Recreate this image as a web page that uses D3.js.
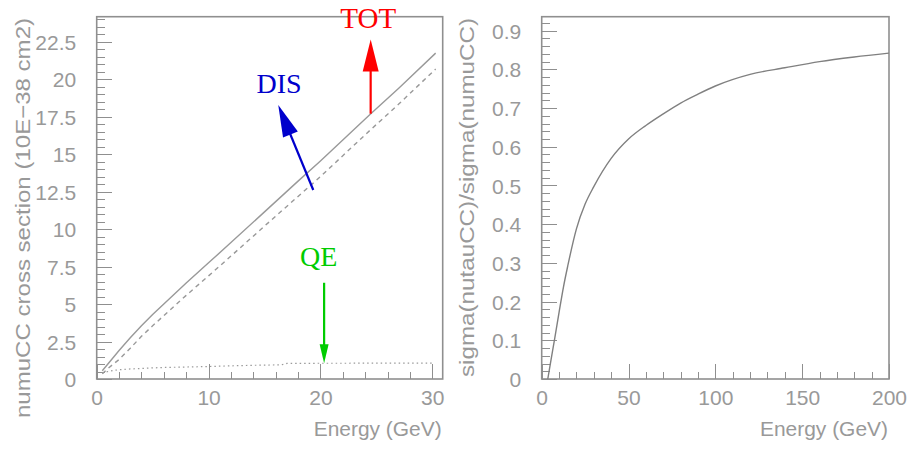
<!DOCTYPE html>
<html><head><meta charset="utf-8">
<script src="https://cdn.jsdelivr.net/npm/d3@7/dist/d3.min.js"></script>
<style>
html,body{margin:0;padding:0;background:#fff;}
svg{display:block;}
</style></head>
<body>
<svg id="chart" width="908" height="449"></svg>
<script>
// ---------------- data ----------------
const xsEnergy   = [0.5, 1, 1.5, 2, 3, 4, 5, 6, 8, 10, 12, 15, 18, 20, 22, 24.5, 27, 30.3];
const totSigma   = [0.55, 1.0, 1.45, 1.9, 2.75, 3.55, 4.3, 5.0, 6.4, 7.75, 9.1, 11.15, 13.2, 14.55, 15.95, 17.7, 19.4, 21.74];
const disSigma   = [0.35, 0.7, 1.0, 1.3, 2.05, 2.85, 3.55, 4.23, 5.58, 6.88, 8.2, 10.2, 12.18, 13.5, 14.9, 16.64, 18.34, 20.68];
const qeEnergy   = [0.5, 1, 1.5, 2, 3, 4, 5, 6, 8, 10, 12, 15, 16.5, 17, 20, 22, 24.5, 27, 30];
const qeSigma    = [0.4, 0.5, 0.57, 0.62, 0.67, 0.7, 0.74, 0.77, 0.8, 0.83, 0.88, 0.93, 0.94, 1.04, 1.05, 1.05, 1.06, 1.06, 1.06];
const ratioEnergy = [3.5, 5, 7.5, 10, 12.5, 15, 20, 25, 30, 40, 50, 60, 70, 80, 90, 100, 120, 140, 160, 180, 200];
const ratioValue  = [0, 0.04, 0.105, 0.172, 0.237, 0.292, 0.388, 0.452, 0.497, 0.57, 0.62, 0.655, 0.685, 0.713, 0.736, 0.757, 0.787, 0.804, 0.82, 0.832, 0.842];

const leftXTicks  = [0, 10, 20, 30];
const leftYTicks  = [0, 2.5, 5, 7.5, 10, 12.5, 15, 17.5, 20, 22.5];
const rightXTicks = [0, 50, 100, 150, 200];
const rightYTicks = [0, 0.1, 0.2, 0.3, 0.4, 0.5, 0.6, 0.7, 0.8, 0.9];

const leftXTitle  = "Energy (GeV)";
const leftYTitle  = "numuCC cross section (10E\u221238 cm2)";
const rightXTitle = "Energy (GeV)";
const rightYTitle = "sigma(nutauCC)/sigma(numuCC)";

// annotation arrows (data coordinates of left panel)
const arrowLabels = ["TOT", "DIS", "QE"];
const arrowColors = ["#ff0000", "#0000cc", "#00cc00"];
const arrowFrom   = [[24.49, 17.7], [19.36, 12.61], [20.33, 6.42]];
const arrowTo     = [[24.49, 22.65], [16.23, 18.28], [20.33, 1.05]];
const labelAt     = [[24.27, 23.4], [16.31, 19.06], [19.84, 7.54]];

// ---------------- layout ----------------
const svg = d3.select("#chart");
const gray = "#8f8f8f";
const textGray = "#999999";
const fontTick = "'Liberation Sans', Arial, sans-serif";

const L = {x0: 96.7, x1: 442.7, y0: 16.7, y1: 379};
const R = {x0: 541.7, x1: 889, y0: 16.7, y1: 379};

const lx = d3.scaleLinear().domain([0, 30.93]).range([L.x0, L.x1]);
const ly = d3.scaleLinear().domain([0, 24.17]).range([L.y1, L.y0]);
const rx = d3.scaleLinear().domain([0, 200]).range([R.x0, R.x1]);
const ry = d3.scaleLinear().domain([0, 0.936]).range([R.y1, R.y0]);

function styleAxis(g) {
  g.select(".domain").remove();
  g.selectAll(".tick line").attr("stroke", gray).attr("stroke-width", 1).attr("shape-rendering", "crispEdges");
  g.selectAll(".tick text").attr("fill", textGray).attr("font-family", fontTick).attr("font-size", 21);
}

function drawPanel(P, xs, ys, xTicks, yTicks, xMinorStep, yMinorStep, xTitle) {
  const g = svg.append("g");
  const xMinor = d3.range(0, xs.domain()[1] + 1e-9, xMinorStep);
  const yMinor = d3.range(0, ys.domain()[1] + 1e-9, yMinorStep);
  g.append("g").attr("transform", `translate(0,${P.y1})`)
    .call(d3.axisBottom(xs).tickValues(xMinor).tickSize(-7.5).tickFormat(""))
    .call(styleAxis);
  g.append("g").attr("transform", `translate(${P.x0},0)`)
    .call(d3.axisLeft(ys).tickValues(yMinor).tickSize(-8).tickFormat(""))
    .call(styleAxis);
  g.append("g").attr("transform", `translate(0,${P.y1})`)
    .call(d3.axisBottom(xs).tickValues(xTicks).tickSize(-15).tickPadding(11).tickFormat(d => String(d)))
    .call(styleAxis);
  g.append("g").attr("transform", `translate(${P.x0},0)`)
    .call(d3.axisLeft(ys).tickValues(yTicks).tickSize(-15).tickPadding(20.5).tickFormat(d => String(d)))
    .call(styleAxis)
    .call(a => a.selectAll(".tick text").attr("dy", "0.36em"));
  g.append("rect").attr("x", P.x0).attr("y", P.y0)
    .attr("width", P.x1 - P.x0).attr("height", P.y1 - P.y0)
    .attr("fill", "none").attr("stroke", gray).attr("stroke-width", 1.6);
  g.append("text").attr("x", P.x1 - 1).attr("y", 435.5).attr("text-anchor", "end")
    .attr("font-family", fontTick).attr("font-size", 21).attr("fill", textGray)
    .attr("textLength", 128).attr("lengthAdjust", "spacingAndGlyphs")
    .text(xTitle);
  return g;
}

const gL = drawPanel(L, lx, ly, leftXTicks, leftYTicks, 2, 0.5, leftXTitle);
const gR = drawPanel(R, rx, ry, rightXTicks, rightYTicks, 10, 0.02, rightXTitle);

svg.append("text").attr("transform", "translate(29.5,18) rotate(-90)")
  .attr("text-anchor", "end").attr("font-family", fontTick).attr("font-size", 21).attr("fill", textGray)
  .attr("textLength", 400).attr("lengthAdjust", "spacingAndGlyphs")
  .text(leftYTitle);
svg.append("text").attr("transform", "translate(474,18) rotate(-90)")
  .attr("text-anchor", "end").attr("font-family", fontTick).attr("font-size", 21).attr("fill", textGray)
  .attr("textLength", 359).attr("lengthAdjust", "spacingAndGlyphs")
  .text(rightYTitle);

const lineL = d3.line().x(d => lx(d[0])).y(d => ly(d[1]));
const curveColor = "#999999";
gL.append("path").datum(d3.zip(xsEnergy, totSigma)).attr("d", lineL)
  .attr("fill", "none").attr("stroke", curveColor).attr("stroke-width", 1.4);
gL.append("path").datum(d3.zip(xsEnergy, disSigma)).attr("d", lineL)
  .attr("fill", "none").attr("stroke", curveColor).attr("stroke-width", 1.4).attr("stroke-dasharray", "4.5,4");
gL.append("path").datum(d3.zip(qeEnergy, qeSigma)).attr("d", lineL)
  .attr("fill", "none").attr("stroke", "#9a9a9a").attr("stroke-width", 1.2).attr("stroke-dasharray", "1.5,3");

const lineR = d3.line().x(d => rx(d[0])).y(d => ry(d[1])).curve(d3.curveMonotoneX);
gR.append("path").datum(d3.zip(ratioEnergy, ratioValue)).attr("d", lineR)
  .attr("fill", "none").attr("stroke", "#808080").attr("stroke-width", 1.4);

arrowLabels.forEach((lab, i) => {
  const [x1, y1] = [lx(arrowFrom[i][0]), ly(arrowFrom[i][1])];
  const [x2, y2] = [lx(arrowTo[i][0]), ly(arrowTo[i][1])];
  const big = lab !== "QE";
  const headLen = big ? 32 : 19, headW = big ? 16 : 9;
  const dx = x2 - x1, dy = y2 - y1, len = Math.hypot(dx, dy);
  const ux = dx / len, uy = dy / len;
  const bx = x2 - ux * headLen, by = y2 - uy * headLen;
  const px = -uy, py = ux;
  svg.append("line").attr("x1", x1).attr("y1", y1).attr("x2", bx + ux * 2).attr("y2", by + uy * 2)
    .attr("stroke", arrowColors[i]).attr("stroke-width", 2.2);
  svg.append("path")
    .attr("d", `M${x2},${y2}L${bx + px * headW / 2},${by + py * headW / 2}L${bx - px * headW / 2},${by - py * headW / 2}Z`)
    .attr("fill", arrowColors[i]);
  svg.append("text").attr("x", lx(labelAt[i][0])).attr("y", ly(labelAt[i][1]))
    .attr("text-anchor", "middle").attr("font-family", "'Liberation Serif', 'Times New Roman', serif")
    .attr("font-size", lab === "TOT" ? 29 : 28).attr("fill", arrowColors[i])
    .text(lab);
});
</script>
</body></html>
